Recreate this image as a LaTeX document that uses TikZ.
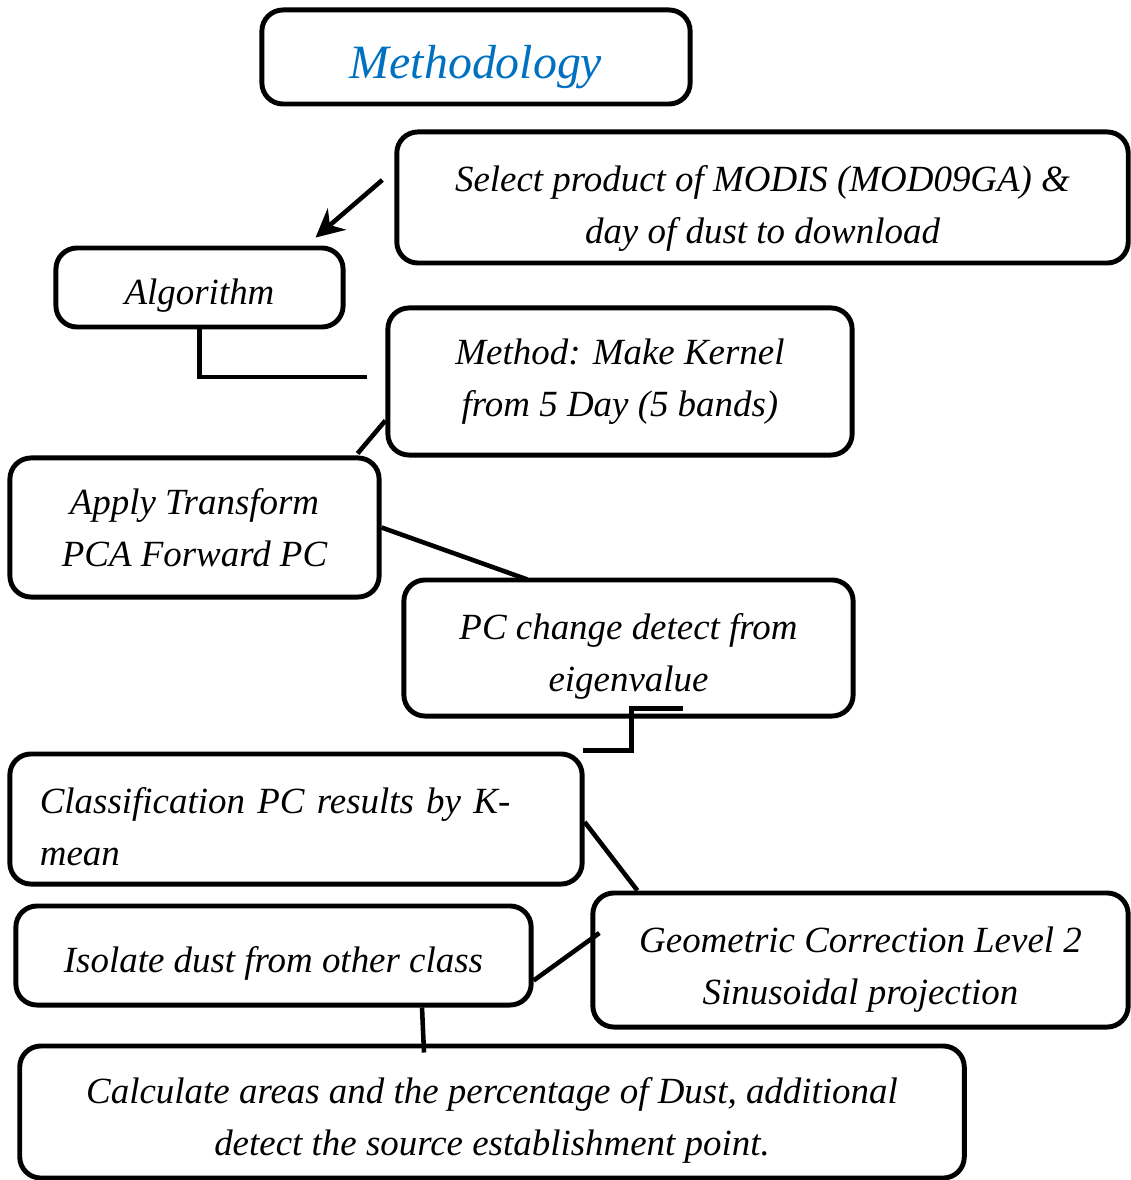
\documentclass[tikz,border=0pt]{standalone}
\usepackage{fontspec}
\setmainfont{Liberation Serif}
\usetikzlibrary{calc,arrows.meta}
\definecolor{titleblue}{HTML}{0070C0}
\newcommand{\topstrut}[1]{\rule{0pt}{#1}}
\tikzset{
  box/.style={draw, line width=1.4pt, rounded corners=6pt, align=center,
    inner sep=0pt, font=\fontsize{10.5}{14.8}\selectfont\itshape,
    execute at begin node={\rule{0pt}{12pt}}},
  link/.style={line width=1.3pt}
}
\begin{document}
\begin{tikzpicture}[x=0.01cm,y=-0.01cm]
  \useasboundingbox (0,0) rectangle (1130,1180);
  % boxes
  \node[box, minimum width=4.28cm, minimum height=0.94cm, text=titleblue,
    font=\fontsize{13.6}{16}\selectfont\itshape,
    execute at begin node={\rule{0pt}{15pt}}] (title) at (476,57) {Methodology};
  \node[box, minimum width=7.31cm, minimum height=1.31cm] (select) at (762.5,197.5)
    {\topstrut{13.6pt}Select product of MODIS (MOD09GA) \&\\ day of dust to download};
  \node[box, minimum width=2.87cm, minimum height=0.79cm] (algo) at (199.5,287.5) {Algorithm};
  \node[box, minimum width=4.64cm, minimum height=1.47cm] (method) at (620,381.5)
    {Method: Make Kernel\\ from 5 Day (5 bands)};
  \node[box, minimum width=3.69cm, minimum height=1.39cm] (apply) at (194.5,527.5)
    {Apply Transform\\ PCA Forward PC};
  \node[box, minimum width=4.49cm, minimum height=1.36cm] (pcchange) at (628.5,648)
    {\topstrut{12.3pt}PC change detect from\\ eigenvalue};
  \node[box, minimum width=5.72cm, minimum height=1.30cm, align=left, text width=5.12cm]
    (classif) at (296,819) {Classification PC results by K-\\ mean};
  \node[box, minimum width=5.15cm, minimum height=0.99cm] (isolate) at (273.5,955.5)
    {Isolate dust from other class};
  \node[box, minimum width=5.35cm, minimum height=1.34cm] (geom) at (860.5,960)
    {\topstrut{13pt}Geometric Correction Level 2\\ Sinusoidal projection};
  \node[box, minimum width=9.44cm, minimum height=1.32cm] (calc) at (492,1112)
    {\topstrut{12.3pt}Calculate areas and the percentage of Dust, additional\\ detect the source establishment point.};
  % connectors
  \draw[link, -{Stealth[length=8pt,width=8pt]}] ($(select.west)+(-12,-17.5)$) -- ($(algo.north east)+(-30,-8)$);
  \draw[link] (algo.south) |- ($(method.west)+(-18,-4.5)$);
  \draw[link] ($(apply.north east)+(-24,-2)$) -- ($(method.south west)+(0,-37)$);
  \draw[link] (apply.east) -- ($(pcchange.north west)+(126,2)$);
  \draw[link] ($(pcchange.south)+(54,-10)$) -- ++(-51,0) |- ($(classif.north east)+(-2,-1)$);
  \draw[link] ($(classif.east)+(0,3)$) -- ($(geom.north west)+(47,0)$);
  \draw[link] ($(isolate.east)+(0,25)$) -- ($(geom.west)+(9,-27)$);
  \draw[link] ($(isolate.south)+(148.5,0)$) -- ($(calc.north)+(-68,9)$);
\end{tikzpicture}
\end{document}
